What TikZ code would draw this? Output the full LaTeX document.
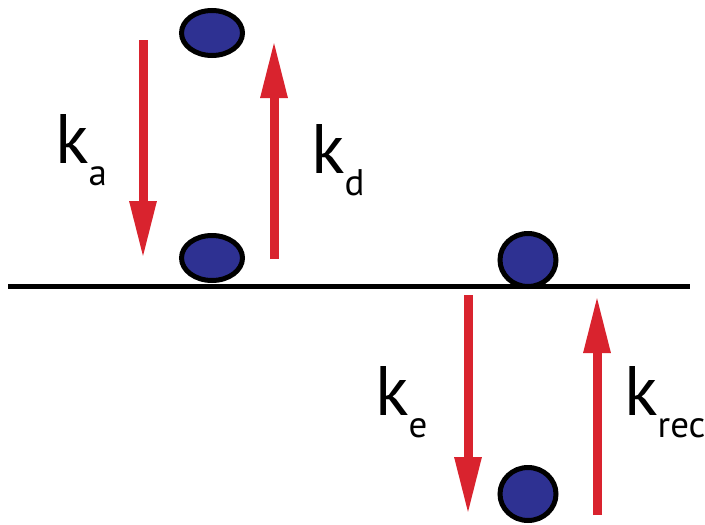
\documentclass[tikz,border=0pt]{standalone}
\usepackage{fontspec}
\setmainfont{PT Sans}
\usetikzlibrary{arrows.meta,shapes.geometric}
\definecolor{arrred}{RGB}{217,35,46}
\definecolor{partblue}{RGB}{46,49,146}
\tikzset{
  particle/.style={ellipse,draw=black,line width=5pt,fill=partblue,inner sep=0pt},
  wide/.style={particle,minimum width=61pt,minimum height=45pt},
  round/.style={particle,minimum width=56pt,minimum height=53pt},
  rate/.style={draw=arrred,line width=9pt,-{Triangle[length=58pt,width=25pt]},arrred},
  lbl/.style={anchor=base west,inner sep=0pt,font=\fontsize{70}{70}\selectfont},
}
\newcommand{\subtx}[1]{\raisebox{-22pt}{\fontsize{37}{37}\selectfont #1}}
\begin{document}
\begin{tikzpicture}[x=1pt,y=-1pt]
\useasboundingbox (0,0) rectangle (705,525);
\node[wide] (p1) at (212,33) {};
\node[wide] (p2) at (212,258) {};
\node[round] (p3) at (528,260) {};
\node[round] (p4) at (528,494) {};
\coordinate (ls) at (8,286);
\coordinate (le) at (690,286);
\draw[line width=5pt] (ls) -- (le);
\coordinate (a1) at (143,40);
\coordinate (a2) at (143,259);
\coordinate (d1) at (274,259);
\coordinate (d2) at (274,40);
\coordinate (e1) at (468,295);
\coordinate (e2) at (468,515);
\coordinate (r1) at (597,515);
\coordinate (r2) at (597,295);
\draw[rate] (a1) -- (a2);
\draw[rate] (d1) -- (d2);
\draw[rate] (e1) -- (e2);
\draw[rate] (r1) -- (r2);
\node[lbl] (ka) at (55,163) {k\subtx{a}};
\node[lbl] (kd) at (311,173) {k\subtx{d}};
\node[lbl] (ke) at (375,415) {k\subtx{e}};
\node[lbl] (kr) at (624,415) {k\subtx{rec}};
\end{tikzpicture}
\end{document}
